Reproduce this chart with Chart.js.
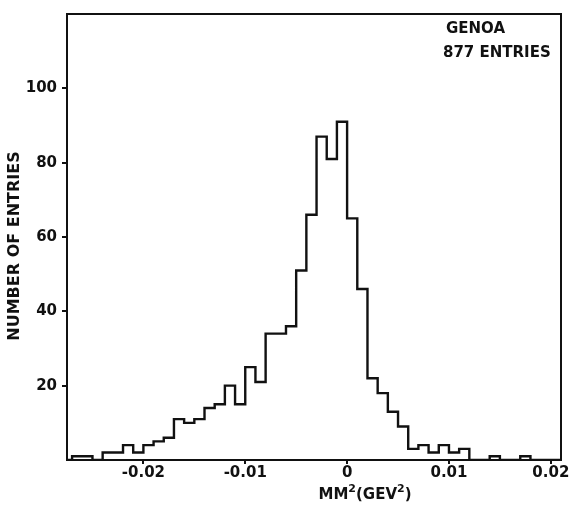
<!DOCTYPE html>
<html>
<head>
<meta charset="utf-8">
<script src="https://cdn.jsdelivr.net/npm/chart.js@4.4.0/dist/chart.umd.min.js"></script>
<style>
  html, body { margin: 0; padding: 0; background: #fff; }
</style>
</head>
<body>
<canvas id="grafica" width="586" height="513"></canvas>
<script>
// left edge of each MM^2 bin (GeV^2), bin width 0.001
const binLow = [-0.028, -0.027, -0.026, -0.025, -0.024, -0.023, -0.022, -0.021, -0.020, -0.019,
                -0.018, -0.017, -0.016, -0.015, -0.014, -0.013, -0.012, -0.011, -0.010, -0.009,
                -0.008, -0.007, -0.006, -0.005, -0.004, -0.003, -0.002, -0.001, 0.000, 0.001,
                0.002, 0.003, 0.004, 0.005, 0.006, 0.007, 0.008, 0.009, 0.010, 0.011,
                0.012, 0.013, 0.014, 0.015, 0.016, 0.017, 0.018, 0.019, 0.020];
const counts = [0, 1, 1, 0, 2, 2, 4, 2, 4, 5,
                6, 11, 10, 11, 14, 15, 20, 15, 25, 21,
                34, 34, 36, 51, 66, 87, 81, 91, 65, 46,
                22, 18, 13, 9, 3, 4, 2, 4, 2, 3,
                0, 0, 1, 0, 0, 1, 0, 0, 0];
const lastEdge = 0.021;
const xTicks = [-0.02, -0.01, 0, 0.01, 0.02];
const yTicks = [20, 40, 60, 80, 100];

const FONT = '"DejaVu Sans", sans-serif';
const INK = '#111';

// histogram points: one per bin edge, held until the next edge
const puntos = binLow.map((x, i) => ({ x: x, y: counts[i] }));
puntos.push({ x: lastEdge, y: counts[counts.length - 1] });

// frame + free text (labels, axis titles)
const marcoYTextos = {
    id: 'marcoYTextos',
    afterDraw(chart) {
        const { ctx, chartArea: a } = chart;
        ctx.save();
        ctx.strokeStyle = INK;
        ctx.lineWidth = 2;
        ctx.strokeRect(a.left, a.top, a.right - a.left, a.bottom - a.top);

        ctx.fillStyle = INK;
        ctx.textBaseline = 'middle';
        ctx.font = 'bold 15px ' + FONT;
        ctx.fillText('GENOA', 446, 29);
        ctx.fillText('877 ENTRIES', 443, 53);

        // y title
        ctx.save();
        ctx.translate(15, 246);
        ctx.rotate(-Math.PI / 2);
        ctx.textAlign = 'center';
        ctx.font = 'bold 16px ' + FONT;
        ctx.fillText('NUMBER OF ENTRIES', 0, 0);
        ctx.restore();

        // x title with superscripts
        const partes = [['MM', false], ['2', true], ['(GEV', false], ['2', true], [')', false]];
        const big = 'bold 15px ' + FONT, small = 'bold 11px ' + FONT;
        let ancho = 0;
        partes.forEach(p => { ctx.font = p[1] ? small : big; ancho += ctx.measureText(p[0]).width; });
        let x = 365 - ancho / 2;
        const y = 495;
        ctx.textAlign = 'left';
        partes.forEach(p => {
            ctx.font = p[1] ? small : big;
            ctx.fillText(p[0], x, p[1] ? y - 6 : y);
            x += ctx.measureText(p[0]).width;
        });
        ctx.restore();
    }
};

new Chart(document.getElementById('grafica').getContext('2d'), {
    type: 'line',
    data: {
        datasets: [{
            data: puntos,
            stepped: 'before',
            borderColor: INK,
            borderWidth: 2.4,
            pointRadius: 0,
            fill: false
        }]
    },
    options: {
        responsive: false,
        animation: false,
        layout: { padding: { top: 10, right: 25, bottom: 0, left: 0 } },
        plugins: { legend: { display: false }, tooltip: { enabled: false } },
        scales: {
            x: {
                type: 'linear',
                min: -0.0275,
                max: 0.021,
                afterBuildTicks: s => { s.ticks = xTicks.map(v => ({ value: v })); },
                afterFit: s => { s.height = 53; },
                grid: { drawOnChartArea: false, drawTicks: true, tickLength: 4, color: INK, lineWidth: 2 },
                border: { display: true, color: INK, width: 2 },
                ticks: {
                    color: INK,
                    font: { family: FONT, size: 15, weight: 'bold' },
                    padding: 0,
                    maxRotation: 0,
                    callback: v => (v === 0 ? '0' : v.toFixed(2))
                }
            },
            y: {
                min: 0,
                max: 120,
                afterBuildTicks: s => { s.ticks = yTicks.map(v => ({ value: v })); },
                afterFit: s => { s.width = 67; },
                grid: { drawOnChartArea: false, drawTicks: true, tickLength: 5, color: INK, lineWidth: 2 },
                border: { display: true, color: INK, width: 2 },
                ticks: {
                    color: INK,
                    font: { family: FONT, size: 15, weight: 'bold' },
                    padding: 5
                }
            }
        }
    },
    plugins: [marcoYTextos]
});
</script>
</body>
</html>
